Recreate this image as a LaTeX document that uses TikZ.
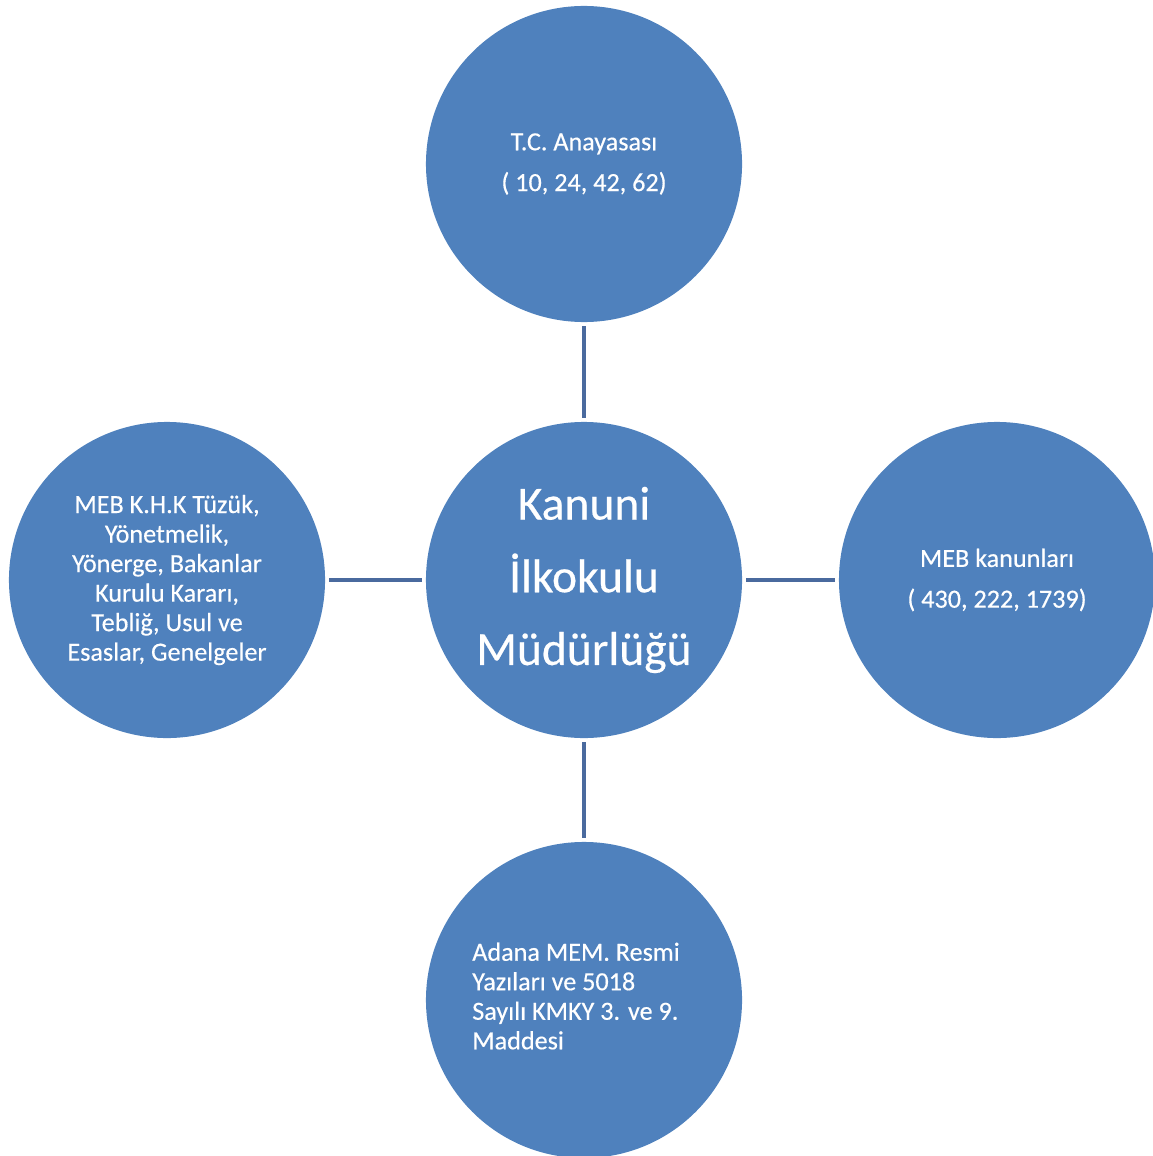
\documentclass[tikz,border=0pt]{standalone}
\usepackage{fontspec}
\setmainfont{Carlito}[FakeBold=0.4]
\definecolor{bubblefill}{HTML}{4F81BD}
\definecolor{linkline}{HTML}{4A6A9E}
\tikzset{
	bubble/.style={circle,fill=bubblefill,minimum size=7.9cm,inner sep=0pt,text=white,align=center},
	bigtext/.style={font=\fontsize{33.8}{51.7}\selectfont},
	wide/.style={font=\fontsize{18.6}{29}\selectfont},
	tight/.style={font=\fontsize{18.6}{21}\selectfont},
	link/.style={draw=linkline,line width=2.8pt,shorten <=0.1cm,shorten >=0.1cm}
}
\begin{document}
\begin{tikzpicture}[x=0.025cm,y=-0.025cm]
	\useasboundingbox (0,0) rectangle (1152,1156);
	\node[bubble,bigtext] (okul) at (584,580) {Kanuni\\İlkokulu\\Müdürlüğü};
	\node[bubble,wide] (anayasa) at (584,164) {T.C. Anayasası\\( 10, 24, 42, 62)};
	\node[bubble,wide] (kanun) at (997,580) {MEB kanunları\\( 430, 222, 1739)};
	\node[bubble,tight] (mevzuat) at (167,580) {MEB K.H.K Tüzük,\\Yönetmelik,\\Yönerge, Bakanlar\\Kurulu Kararı,\\Tebliğ, Usul ve\\Esaslar, Genelgeler};
	\node[bubble] (yazi) at (584,1000) {};
	\node[tight,text=white,align=left,anchor=west,inner sep=0pt] (yazimetin) at (472,996) {Adana MEM. Resmi\\Yazıları ve 5018\\Sayılı KMKY 3. ve 9.\\Maddesi};
	\draw[link] (anayasa) -- (okul);
	\draw[link] (mevzuat) -- (okul);
	\draw[link] (kanun) -- (okul);
	\draw[link] (yazi) -- (okul);
\end{tikzpicture}
\end{document}
